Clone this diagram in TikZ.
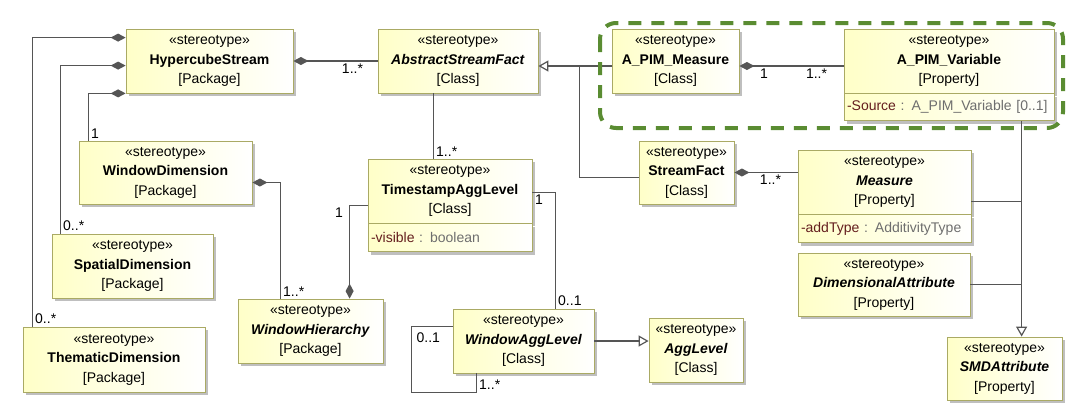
\documentclass[tikz,border=0pt]{standalone}
\usepackage{fontspec}
\setmainfont{Liberation Sans}
\usetikzlibrary{arrows.meta, positioning, shadows}

\definecolor{boxline}{RGB}{170,170,100}
\definecolor{boxfill}{RGB}{255,255,200}
\definecolor{linegray}{RGB}{85,85,85}
\definecolor{attrname}{RGB}{100,30,30}
\definecolor{attrtype}{RGB}{110,110,110}
\definecolor{frame}{RGB}{90,140,50}

\newcommand{\stereo}[2]{«stereotype»\\#1\\{}[#2]}

\begin{document}
\begin{tikzpicture}[x=1pt, y=-1pt,
    umlbox/.style={draw=boxline, line width=0.8pt, left color=boxfill, right color=white,
        inner sep=0pt, align=center, font=\fontsize{14}{19.5}\selectfont,
        drop shadow={shadow xshift=3pt, shadow yshift=-3pt, fill=black, opacity=0.25}},
    attrbox/.style={umlbox, align=left, inner xsep=3pt, inner ysep=0pt},
    assoc/.style={draw=linegray, line width=1.2pt},
    comp/.style={assoc, {Diamond[length=15pt, width=8pt]}-},
    compend/.style={assoc, -{Diamond[length=15pt, width=8pt]}},
    gen/.style={assoc, -{Triangle[open, length=10pt, width=11pt, fill=white]}},
    lbl/.style={font=\fontsize{14}{16}\selectfont, inner sep=2pt},
    hilite/.style={draw=frame, line width=4pt, dash pattern=on 13pt off 10pt, rounded corners=16pt}]
    \useasboundingbox (0,0) rectangle (1067,415);

    % Packages on the left
    \node[umlbox, minimum width=167pt, minimum height=64pt] (hyper) at (209.5,61) {\stereo{\textbf{HypercubeStream}}{Package}};
    \node[umlbox, minimum width=173pt, minimum height=63pt] (windim) at (165.5,172.5) {\stereo{\textbf{WindowDimension}}{Package}};
    \node[umlbox, minimum width=161pt, minimum height=64pt] (spatial) at (132.5,266) {\stereo{\textbf{SpatialDimension}}{Package}};
    \node[umlbox, minimum width=182pt, minimum height=65pt] (thematic) at (114,359.5) {\stereo{\textbf{ThematicDimension}}{Package}};
    \node[umlbox, minimum width=145pt, minimum height=64pt] (winhier) at (310.5,331) {\stereo{\textbf{\textit{WindowHierarchy}}}{Package}};

    % Classes in the middle
    \node[umlbox, minimum width=160pt, minimum height=64pt] (asf) at (458,61) {\stereo{\textbf{\textit{AbstractStreamFact}}}{Class}};
    \node[umlbox, minimum width=164pt, minimum height=64pt] (tsagg) at (450,191) {\stereo{\textbf{TimestampAggLevel}}{Class}};
    \node[attrbox, text width=158pt, minimum height=28pt, below=0pt of tsagg] (tsaggattr) {\textcolor{attrname}{-visible} \textcolor{attrtype}{: boolean}};
    \node[umlbox, minimum width=141pt, minimum height=64pt] (waggl) at (523.5,341) {\stereo{\textbf{\textit{WindowAggLevel}}}{Class}};
    \node[umlbox, minimum width=94pt, minimum height=64pt] (agglevel) at (696,350) {\stereo{\textbf{\textit{AggLevel}}}{Class}};
    \node[umlbox, minimum width=95pt, minimum height=63pt] (sfact) at (686.5,172.5) {\stereo{\textbf{StreamFact}}{Class}};
    \node[umlbox, minimum width=127pt, minimum height=64pt] (pmeas) at (675.5,61) {\stereo{\textbf{A\_PIM\_Measure}}{Class}};

    % Properties on the right
    \node[umlbox, minimum width=210pt, minimum height=64pt] (pvar) at (949,61) {\stereo{\textbf{A\_PIM\_Variable}}{Property}};
    \node[attrbox, text width=204pt, minimum height=27pt, below=0pt of pvar] (pvarattr) {\textcolor{attrname}{-Source} \textcolor{attrtype}{: A\_PIM\_Variable [0..1]}};
    \node[umlbox, minimum width=173pt, minimum height=64pt] (measure) at (884.5,182) {\stereo{\textbf{\textit{Measure}}}{Property}};
    \node[attrbox, text width=167pt, minimum height=28pt, below=0pt of measure] (measattr) {\textcolor{attrname}{-addType} \textcolor{attrtype}{: AdditivityType}};
    \node[umlbox, minimum width=172pt, minimum height=63pt] (dimattr) at (884,284.5) {\stereo{\textbf{\textit{DimensionalAttribute}}}{Property}};
    \node[umlbox, minimum width=115pt, minimum height=63pt] (smd) at (1004.5,368.5) {\stereo{\textbf{\textit{SMDAttribute}}}{Property}};

    % Compositions from HypercubeStream
    \draw[comp] ([yshift=-9pt]hyper.north west) -| ([xshift=10pt]thematic.north west) node[lbl, anchor=south west] (m1) {0..*};
    \draw[comp] ([yshift=-37pt]hyper.north west) -| ([xshift=9pt]spatial.north west) node[lbl, anchor=south west] (m2) {0..*};
    \draw[comp] (hyper.south west) -| ([xshift=10pt]windim.north west) node[lbl, anchor=south west] (m3) {1};
    \draw[comp] (hyper.east) -- (asf.west) node[lbl, anchor=north east, xshift=-12pt] (m4) {1..*};
    \draw[comp] ([yshift=-10pt]windim.east) -| ([xshift=43pt]winhier.north west) node[lbl, anchor=south west] (m5) {1..*};

    % Aggregation levels
    \draw[assoc] ([xshift=56pt]asf.south west) -- ([xshift=66pt]tsagg.north west) node[lbl, anchor=south west] (m6) {1..*};
    \draw[compend] ([yshift=-47pt]tsagg.north west) -| node[lbl, pos=0.5, anchor=north east, xshift=-4pt] (m7) {1} ([xshift=112pt]winhier.north west);
    \draw[assoc] ([yshift=-34pt]tsagg.north east) -| node[lbl, at start, anchor=north west] (m8) {1} ([xshift=103pt]waggl.north west) node[lbl, anchor=south west] (m9) {0..1};
    \draw[assoc] ([yshift=-18pt]waggl.north west) -- node[lbl, at start, anchor=north east, xshift=-10pt, yshift=-4pt] (m10) {0..1} ++(-41,0)
        |- ([xshift=24pt, yshift=-19pt]waggl.south west) -- ([xshift=24pt]waggl.south west) node[lbl, anchor=north west, yshift=-4pt] (m11) {1..*};
    \draw[gen] (waggl.east) -- (waggl.east -| agglevel.west);

    % Facts and measures
    \draw[gen] ([yshift=-5pt]pmeas.west) -- ([yshift=-5pt]asf.east);
    \draw[assoc] ([yshift=-5pt]sfact.west) -| ([xshift=41pt, yshift=-5pt]asf.east);
    \draw[comp] ([yshift=-5pt]pmeas.east) -- node[lbl, at start, anchor=north west, xshift=18pt] (m12) {1} node[lbl, at end, anchor=north east, xshift=-14pt] (m13) {1..*} ([yshift=-5pt]pvar.west);
    \draw[comp] (sfact.east) -- node[lbl, at end, anchor=north east, xshift=-14pt] (m14) {1..*} (sfact.east -| measure.west);

    % Generalization to SMDAttribute
    \coordinate (genx) at ([xshift=75pt]smd.north west);
    \coordinate (measj) at ([yshift=-52pt]measure.north east);
    \draw[assoc] (measj) -- (measj -| genx);
    \draw[assoc] (dimattr.east) -- (dimattr.east -| genx);
    \draw[gen] ([xshift=178pt]pvarattr.south west) -- (genx);

    % Highlight frame
    \draw[hilite] (600,23) rectangle (1063,128);
\end{tikzpicture}
\end{document}
